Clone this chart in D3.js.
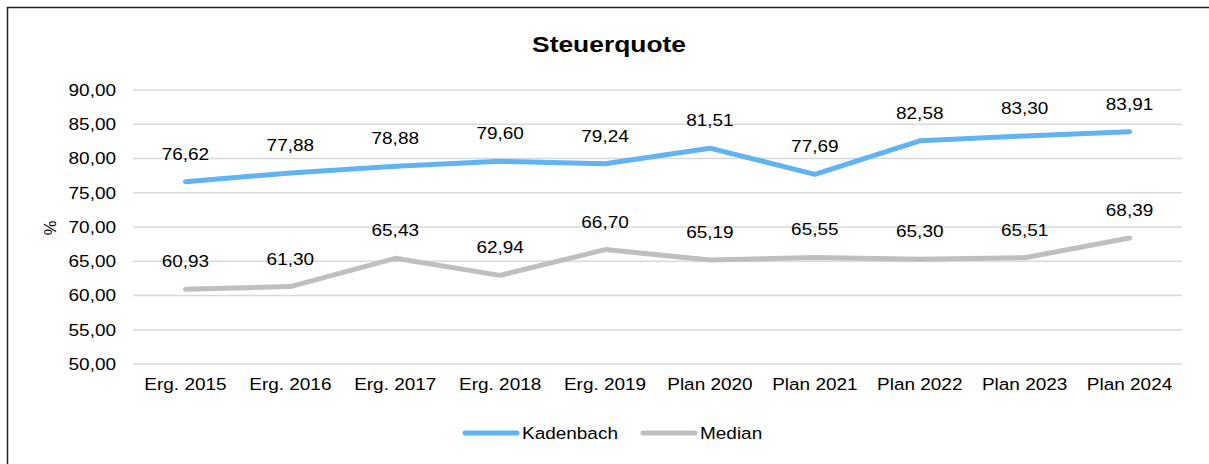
<!DOCTYPE html>
<html>
<head>
<meta charset="utf-8">
<script src="https://cdn.jsdelivr.net/npm/d3@7"></script>
<style>
  body { margin: 0; background: #fff; }
  text { font-family: "Liberation Sans", Arial, sans-serif; fill: #000; }
</style>
</head>
<body>
<div id="chart"></div>
<script>
const categories = ["Erg. 2015", "Erg. 2016", "Erg. 2017", "Erg. 2018", "Erg. 2019",
                    "Plan 2020", "Plan 2021", "Plan 2022", "Plan 2023", "Plan 2024"];
const kadenbach = [76.62, 77.88, 78.88, 79.60, 79.24, 81.51, 77.69, 82.58, 83.30, 83.91];
const median = [60.93, 61.30, 65.43, 62.94, 66.70, 65.19, 65.55, 65.30, 65.51, 68.39];
const yTicks = [50, 55, 60, 65, 70, 75, 80, 85, 90];

const W = 1209, H = 464;
const margin = {top: 90, left: 133, right: 27, bottom: 100};
const width = W - margin.left - margin.right;
const height = 364 - margin.top;
const FS = 16.5, SX = 1.15;

const fmt = v => v.toFixed(2).replace(".", ",");

// the source picture is a bit wider than tall, so stretch text horizontally
function stretch(sel, sx) {
  sel.each(function() {
    const t = d3.select(this);
    const tx = +t.attr("x") || 0, ty = +t.attr("y") || 0;
    t.attr("x", 0).attr("y", 0)
     .attr("transform", "translate(" + tx + "," + ty + ") scale(" + sx + ",1)");
  });
}

const svg = d3.select("#chart").append("svg")
  .attr("width", W).attr("height", H);

// outer frame (only left and top visible)
svg.append("path")
  .attr("d", "M7.5," + H + " V7.5 H" + W)
  .attr("fill", "none").attr("stroke", "#222").attr("stroke-width", 1.5);

svg.append("text")
  .attr("x", 609).attr("y", 52)
  .attr("text-anchor", "middle")
  .attr("font-size", 22).attr("font-weight", "bold")
  .text("Steuerquote")
  .call(stretch, 1.2);

const g = svg.append("g").attr("transform", "translate(" + margin.left + "," + margin.top + ")");

const x = d3.scaleBand().domain(categories).range([0, width]);
const y = d3.scaleLinear().domain([50, 90]).range([height, 0]);

// gridlines
g.append("g").selectAll("line").data(yTicks).join("line")
  .attr("x1", 0).attr("x2", width)
  .attr("y1", d => y(d)).attr("y2", d => y(d))
  .attr("stroke", "#d9d9d9").attr("stroke-width", 1.3);

// y axis
const yAxis = g.append("g")
  .call(d3.axisLeft(y).tickValues(yTicks).tickFormat(fmt).tickSize(0).tickPadding(17));
yAxis.select(".domain").remove();
yAxis.selectAll("text").attr("font-size", FS).attr("font-family", "Liberation Sans, Arial, sans-serif").attr("fill", "#000")
  .call(stretch, SX);

// x axis
const xAxis = g.append("g").attr("transform", "translate(0," + height + ")")
  .call(d3.axisBottom(x).tickSize(0).tickPadding(14));
xAxis.select(".domain").remove();
xAxis.selectAll("text").attr("font-size", FS).attr("font-family", "Liberation Sans, Arial, sans-serif").attr("fill", "#000")
  .call(stretch, SX);

// y title
svg.append("text")
  .attr("transform", "translate(56,228) rotate(-90)")
  .attr("text-anchor", "middle")
  .attr("font-size", FS)
  .text("%");

const series = [
  {name: "Kadenbach", values: kadenbach, color: "#62b3f2"},
  {name: "Median", values: median, color: "#bfbfbf"}
];

const line = d3.line()
  .x((d, i) => x(categories[i]) + x.bandwidth() / 2)
  .y(d => y(d));

series.forEach(s => {
  g.append("path")
    .datum(s.values)
    .attr("fill", "none")
    .attr("stroke", s.color)
    .attr("stroke-width", 5)
    .attr("stroke-linejoin", "round")
    .attr("stroke-linecap", "round")
    .attr("d", line);

  g.append("g").selectAll("text").data(s.values).join("text")
    .attr("x", (d, i) => x(categories[i]) + x.bandwidth() / 2)
    .attr("y", d => y(d) - 22)
    .attr("text-anchor", "middle")
    .attr("font-size", FS)
    .text(fmt)
    .call(stretch, SX);
});

// legend
const legendItems = [
  {name: "Kadenbach", color: "#62b3f2", x: 463},
  {name: "Median", color: "#bfbfbf", x: 641}
];
const lg = svg.append("g");
legendItems.forEach(it => {
  lg.append("line")
    .attr("x1", it.x + 2).attr("x2", it.x + 54)
    .attr("y1", 433).attr("y2", 433)
    .attr("stroke", it.color).attr("stroke-width", 5)
    .attr("stroke-linecap", "round");
  lg.append("text")
    .attr("x", it.x + 59).attr("y", 439)
    .attr("font-size", FS)
    .text(it.name)
    .call(stretch, SX);
});
</script>
</body>
</html>
